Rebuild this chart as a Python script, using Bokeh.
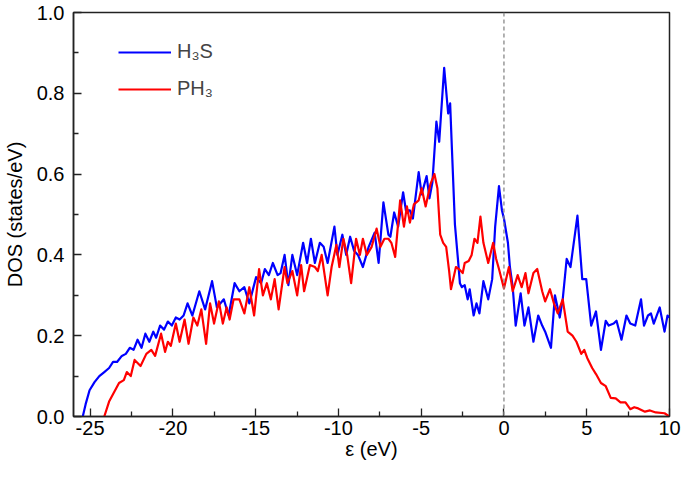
from bokeh.plotting import figure
from bokeh.models import Range1d, Span, Legend, LegendItem, FixedTicker
from bokeh.embed import file_html
from bokeh.resources import INLINE

# ---------------- data ----------------
h3s_e = [-25.44, -25.27, -25.03, -24.73, -24.44, -24.14, -23.85, -23.61, -23.37, -23.08,
         -22.84, -22.60, -22.37, -22.13, -21.89, -21.66, -21.42, -21.18, -21.01, -20.77,
         -20.53, -20.30, -20.06, -19.82, -19.59, -19.35, -19.11, -18.82, -18.40, -18.05,
         -17.63, -17.34, -16.92, -16.63, -16.27, -15.98, -15.68, -15.38, -14.97, -14.67,
         -14.44, -14.20, -13.96, -13.67, -13.49, -13.25, -13.02, -12.78, -12.49, -12.13,
         -11.89, -11.66, -11.42, -11.12, -10.89, -10.65, -10.24, -10.06, -9.76, -9.53,
         -9.29, -9.05, -8.82, -8.52, -8.17, -7.81, -7.57, -7.28, -6.98, -6.86,
         -6.63, -6.39, -6.09, -5.92, -5.68, -5.50, -5.15, -4.97, -4.67, -4.50,
         -4.32, -4.08, -3.91, -3.61, -3.37, -3.25, -3.14, -2.96, -2.78, -2.66,
         -2.54, -2.37, -2.19, -2.07, -1.83, -1.66, -1.48, -1.24, -0.95, -0.71,
         -0.53, -0.30, -0.12, 0.00, 0.24, 0.36, 0.53, 0.71, 1.01, 1.24,
         1.48, 1.78, 2.07, 2.31, 2.49, 2.84, 3.08, 3.37, 3.55, 3.79,
         4.02, 4.44, 4.62, 4.73, 4.97, 5.27, 5.56, 5.86, 6.15, 6.33,
         6.63, 6.80, 7.10, 7.40, 7.63, 7.93, 8.28, 8.46, 8.70, 8.88,
         9.05, 9.41, 9.70, 9.88, 10.0]
h3s_dos = [0.0, 0.03, 0.065, 0.085, 0.10, 0.11, 0.12, 0.135, 0.135, 0.15,
           0.155, 0.17, 0.165, 0.19, 0.17, 0.205, 0.185, 0.21, 0.195, 0.225,
           0.215, 0.235, 0.225, 0.245, 0.24, 0.25, 0.28, 0.25, 0.31, 0.265,
           0.335, 0.27, 0.29, 0.25, 0.33, 0.31, 0.32, 0.28, 0.345, 0.33,
           0.365, 0.35, 0.38, 0.35, 0.355, 0.40, 0.325, 0.40, 0.35, 0.43,
           0.38, 0.44, 0.38, 0.43, 0.42, 0.38, 0.47, 0.40, 0.45, 0.40,
           0.445, 0.41, 0.40, 0.37, 0.42, 0.455, 0.38, 0.53, 0.45, 0.445,
           0.505, 0.47, 0.555, 0.51, 0.51, 0.49, 0.605, 0.55, 0.595, 0.54,
           0.58, 0.73, 0.68, 0.863, 0.75, 0.775, 0.66, 0.475, 0.39, 0.33,
           0.32, 0.325, 0.29, 0.315, 0.25, 0.28, 0.255, 0.335, 0.29, 0.34,
           0.47, 0.57, 0.51, 0.49, 0.43, 0.37, 0.32, 0.225, 0.305, 0.225,
           0.27, 0.185, 0.25, 0.225, 0.21, 0.17, 0.30, 0.245, 0.29, 0.39,
           0.37, 0.497, 0.40, 0.34, 0.34, 0.225, 0.26, 0.165, 0.237, 0.225,
           0.23, 0.237, 0.19, 0.25, 0.23, 0.225, 0.29, 0.225, 0.25, 0.255,
           0.23, 0.27, 0.21, 0.25, 0.245]

ph3_e = [-24.14, -23.85, -23.55, -23.25, -22.96, -22.78, -22.54, -22.31, -21.95, -21.60,
         -21.30, -21.07, -20.71, -20.47, -20.30, -20.12, -19.82, -19.59, -19.29, -19.05,
         -18.76, -18.52, -18.28, -17.99, -17.75, -17.51, -17.22, -16.98, -16.75, -16.57,
         -16.33, -15.98, -15.68, -15.38, -15.09, -14.79, -14.56, -14.32, -14.08, -13.85,
         -13.61, -13.25, -13.08, -12.78, -12.49, -12.25, -12.07, -11.72, -11.42, -11.24,
         -11.01, -10.65, -10.41, -10.12, -9.94, -9.70, -9.47, -9.23, -8.93, -8.70,
         -8.52, -8.28, -7.99, -7.69, -7.46, -7.22, -6.98, -6.80, -6.57, -6.27,
         -6.04, -5.86, -5.68, -5.44, -5.15, -4.97, -4.73, -4.44, -4.20, -4.02,
         -3.85, -3.67, -3.49, -3.31, -3.20, -2.90, -2.72, -2.49, -2.37, -2.13,
         -1.95, -1.78, -1.60, -1.42, -1.24, -0.95, -0.65, -0.47, -0.30, 0.00,
         0.30, 0.53, 0.83, 1.07, 1.30, 1.48, 1.78, 2.01, 2.31, 2.49,
         2.78, 3.02, 3.25, 3.55, 3.85, 4.14, 4.38, 4.67, 4.85, 5.03,
         5.33, 5.56, 5.86, 6.15, 6.45, 6.75, 7.04, 7.34, 7.63, 7.87,
         8.11, 8.52, 8.82, 9.17, 9.70, 10.0]
ph3_dos = [0.0, 0.037, 0.06, 0.083, 0.09, 0.11, 0.10, 0.14, 0.125, 0.155,
           0.165, 0.15, 0.205, 0.16, 0.185, 0.175, 0.23, 0.185, 0.24, 0.18,
           0.245, 0.225, 0.265, 0.18, 0.28, 0.23, 0.285, 0.23, 0.27, 0.24,
           0.29, 0.29, 0.255, 0.32, 0.25, 0.365, 0.30, 0.33, 0.29, 0.34,
           0.265, 0.37, 0.33, 0.36, 0.30, 0.375, 0.31, 0.375, 0.37, 0.36,
           0.40, 0.30, 0.37, 0.425, 0.37, 0.44, 0.40, 0.33, 0.44, 0.40,
           0.44, 0.40, 0.42, 0.465, 0.42, 0.44, 0.44, 0.43, 0.395, 0.535,
           0.47, 0.52, 0.48, 0.525, 0.535, 0.565, 0.52, 0.575, 0.60, 0.565,
           0.45, 0.43, 0.42, 0.36, 0.315, 0.37, 0.365, 0.355, 0.38, 0.385,
           0.40, 0.44, 0.43, 0.495, 0.43, 0.38, 0.43, 0.39, 0.365, 0.317,
           0.37, 0.31, 0.35, 0.32, 0.355, 0.305, 0.355, 0.365, 0.31, 0.285,
           0.315, 0.28, 0.255, 0.29, 0.21, 0.20, 0.185, 0.155, 0.165, 0.145,
           0.12, 0.105, 0.083, 0.075, 0.046, 0.045, 0.035, 0.035, 0.018, 0.023,
           0.02, 0.012, 0.015, 0.01, 0.008, 0.0]

x_ticks = [-25, -20, -15, -10, -5, 0, 5, 10]
x_tick_labels = ["-25", "-20", "-15", "-10", "-5", "0", "5", "10"]
x_minor = [-22.5, -17.5, -12.5, -7.5, -2.5, 2.5, 7.5]
y_ticks = [0.0, 0.2, 0.4, 0.6, 0.8, 1.0]
y_tick_labels = ["0.0", "0.2", "0.4", "0.6", "0.8", "1.0"]
y_minor = [0.1, 0.3, 0.5, 0.7, 0.9]
series_names = ["H\u2083S", "PH\u2083"]

FONT = "Liberation Sans"
FS = "20px"

p = figure(width=681, height=462, output_backend="svg", toolbar_location=None,
           x_range=Range1d(-26.0, 10.0), y_range=Range1d(0.0, 1.0),
           min_border_left=70, min_border_right=12, min_border_top=12, min_border_bottom=44)
p.grid.visible = False
p.background_fill_color = "white"
p.border_fill_color = "white"
p.outline_line_color = "#222222"
p.outline_line_width = 1.5

r1 = p.line(h3s_e, h3s_dos, line_color="#0000ff", line_width=2.2, line_join="round")
r2 = p.line(ph3_e, ph3_dos, line_color="#ff0000", line_width=2.2, line_join="round")

p.add_layout(Span(location=0, dimension="height", line_color="#888888",
                  line_dash="4 3", line_width=1.3))

p.xaxis.ticker = FixedTicker(ticks=x_ticks, minor_ticks=x_minor)
p.yaxis.ticker = FixedTicker(ticks=y_ticks, minor_ticks=y_minor)
p.xaxis.major_label_overrides = {t: l for t, l in zip(x_ticks, x_tick_labels)}
p.yaxis.major_label_overrides = {t: l for t, l in zip(y_ticks, y_tick_labels)}

for ax in (p.xaxis[0], p.yaxis[0]):
    ax.major_tick_in = 8
    ax.major_tick_out = 0
    ax.minor_tick_in = 5
    ax.minor_tick_out = 0
    ax.axis_line_color = "#222222"
    ax.axis_line_width = 1.5
    ax.major_tick_line_color = "#222222"
    ax.minor_tick_line_color = "#222222"
    ax.major_tick_line_width = 1.3
    ax.minor_tick_line_width = 1.3
    ax.major_label_text_font = FONT
    ax.major_label_text_font_size = FS
    ax.major_label_text_color = "black"
    ax.axis_label_text_font = FONT
    ax.axis_label_text_font_size = FS
    ax.axis_label_text_font_style = "normal"
    ax.axis_label_text_color = "black"

p.xaxis.axis_label = "\u03b5 (eV)"
p.yaxis.axis_label = "DOS (states/eV)"
p.xaxis.major_label_standoff = 4
p.xaxis.axis_label_standoff = 0
p.yaxis.major_label_standoff = 9
p.yaxis.axis_label_standoff = 8

legend = Legend(items=[LegendItem(label=series_names[0], renderers=[r1]),
                       LegendItem(label=series_names[1], renderers=[r2])],
                location=(45, 316), margin=0, padding=0, spacing=14,
                glyph_width=53, glyph_height=22, label_height=22, label_standoff=6,
                label_text_font=FONT, label_text_font_size=FS,
                background_fill_alpha=0, border_line_alpha=0)
p.add_layout(legend)

open("out.html", "w").write(file_html(p, INLINE))
